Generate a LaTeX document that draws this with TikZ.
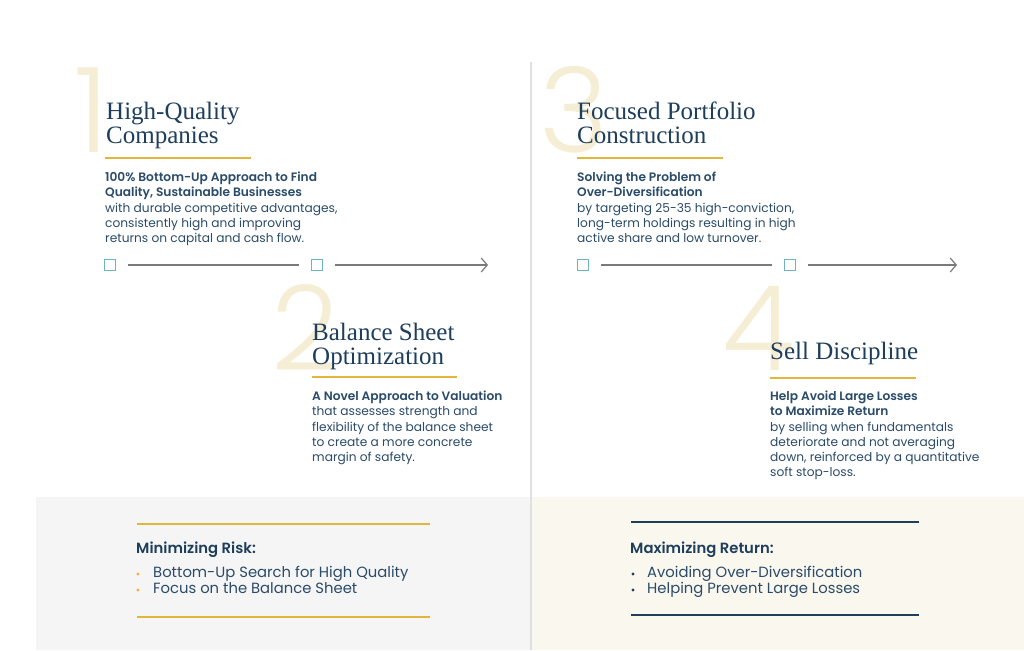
\documentclass[tikz,border=0pt]{standalone}
\usepackage{fontspec}
\setmainfont{Poppins}[BoldFont={Poppins SemiBold}]
\newfontfamily\headfont{Liberation Serif}
\newfontfamily\numfont{Poppins Light}
\usetikzlibrary{arrows.meta}
\definecolor{navy}{HTML}{1D3E5C}
\definecolor{bodyc}{HTML}{2A4B69}
\definecolor{gold}{HTML}{E2B53C}
\definecolor{numc}{HTML}{F5EDD4}
\definecolor{teal}{HTML}{6EB4C0}
\definecolor{lgray}{HTML}{F5F5F5}
\definecolor{cream}{HTML}{FAF7EE}
\definecolor{divc}{HTML}{E0E0E0}
\definecolor{linec}{HTML}{7A7A7A}
\tikzset{
  bignum/.style={anchor=base west, inner sep=0, text=numc, font=\numfont\fontsize{118}{118}\selectfont},
  head/.style={anchor=north west, inner sep=0, align=left, text=navy, font=\headfont\fontsize{25}{25}\selectfont},
  body/.style={anchor=north west, inner sep=0, align=left, text=bodyc, font=\fontsize{12.2}{15.2}\selectfont},
  rule/.style={draw=gold, line width=1.2pt},
  sq/.style={draw=teal, line width=1.3pt, minimum size=11pt, inner sep=0, fill=white},
  conn/.style={draw=linec, line width=1.2pt},
  arr/.style={conn, -{Straight Barb[length=6pt,width=14pt,line width=1.2pt]}},
  sumhead/.style={anchor=north west, inner sep=0, text=navy, font=\bfseries\fontsize{14.8}{16}\selectfont},
  sumitem/.style={anchor=north west, inner sep=0, text=bodyc, font=\fontsize{14.8}{16}\selectfont},
}
\begin{document}
\begin{tikzpicture}[x=1pt,y=-1pt]
\useasboundingbox (0,0) rectangle (1024,650);
\fill[white] (0,0) rectangle (1024,650);
% bottom panels
\fill[lgray] (36,497) rectangle (530,650);
\fill[cream] (532,497) rectangle (1024,650);
\draw[divc, line width=1.2pt] (531,62) -- (531,650);

% big numbers
\node[bignum] (n1) at (74,152) {1};
\node[bignum] (n2) at (271,370) {2};
\node[bignum] (n3) at (539,152) {3};
\node[bignum] (n4) at (722,370) {4};

% section 1
\node[head] (h1) at (106,102) {High-Quality\\[-1pt]Companies};
\draw[rule] (105,158) -- (251,158);
\node[body] (b1) at (105,172) {\textbf{100\% Bottom-Up Approach to Find}\\\textbf{Quality, Sustainable Businesses}\\with durable competitive advantages,\\consistently high and improving\\returns on capital and cash flow.};

% section 2
\node[head] (h2) at (312,323) {Balance Sheet\\[-1pt]Optimization};
\draw[rule] (312,377) -- (457,377);
\node[body] (b2) at (312,391) {\textbf{A Novel Approach to Valuation}\\that assesses strength and\\flexibility of the balance sheet\\to create a more concrete\\margin of safety.};

% section 3
\node[head] (h3) at (577,102) {Focused Portfolio\\[-1pt]Construction};
\draw[rule] (577,158) -- (723,158);
\node[body] (b3) at (577,172) {\textbf{Solving the Problem of}\\\textbf{Over-Diversification}\\by targeting 25-35 high-conviction,\\long-term holdings resulting in high\\active share and low turnover.};

% section 4
\node[head] (h4) at (770,342) {Sell Discipline};
\draw[rule] (770,378) -- (916,378);
\node[body] (b4) at (770,391) {\textbf{Help Avoid Large Losses}\\\textbf{to Maximize Return}\\by selling when fundamentals\\deteriorate and not averaging\\down, reinforced by a quantitative\\soft stop-loss.};

% timeline left
\node[sq] (s1) at (110,265) {};
\node[sq] (s2) at (317,265) {};
\coordinate (e1) at (488,265);
\draw[conn] ([xshift=12pt]s1.east) -- ([xshift=-12pt]s2.west);
\draw[arr] ([xshift=12pt]s2.east) -- (e1);

% timeline right
\node[sq] (s3) at (583,265) {};
\node[sq] (s4) at (790,265) {};
\coordinate (e2) at (957,265);
\draw[conn] ([xshift=12pt]s3.east) -- ([xshift=-12pt]s4.west);
\draw[arr] ([xshift=12pt]s4.east) -- (e2);

% bottom left
\draw[rule] (137,524) -- (430,524);
\node[sumhead] (mr) at (136,542) {Minimizing Risk:};
\fill[gold] (138,574) circle (1.6pt);
\fill[gold] (138,590) circle (1.6pt);
\node[sumitem] (i1) at (153,566) {Bottom-Up Search for High Quality};
\node[sumitem] (i2) at (153,582) {Focus on the Balance Sheet};
\draw[rule] (137,617) -- (430,617);

% bottom right
\draw[draw=navy, line width=1.2pt] (631,522) -- (919,522);
\node[sumhead] (mx) at (630,542) {Maximizing Return:};
\fill[navy] (633,574) circle (1.6pt);
\fill[navy] (633,590) circle (1.6pt);
\node[sumitem] (i3) at (647,566) {Avoiding Over-Diversification};
\node[sumitem] (i4) at (647,582) {Helping Prevent Large Losses};
\draw[draw=navy, line width=1.2pt] (631,615) -- (919,615);
\end{tikzpicture}
\end{document}
